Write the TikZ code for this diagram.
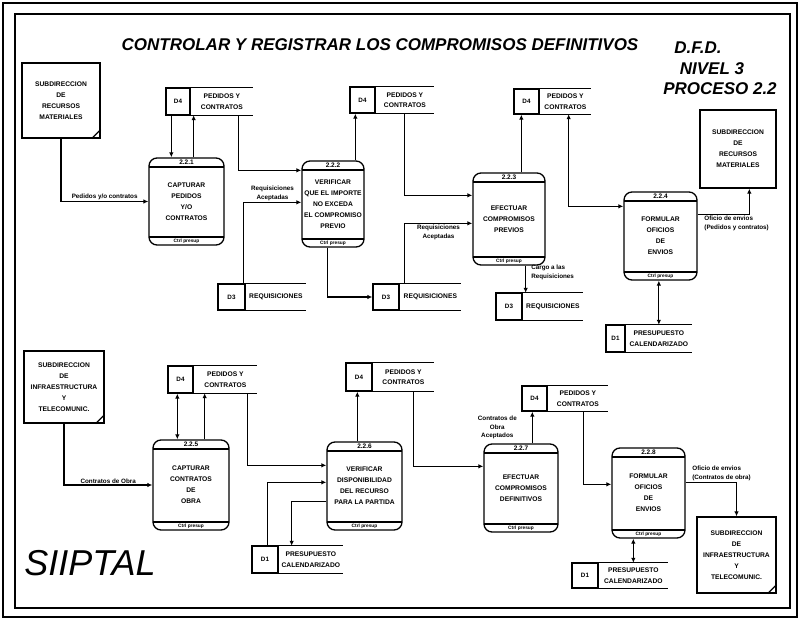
\documentclass[tikz,border=0pt]{standalone}
\usepackage{fontspec}
\setmainfont{Liberation Sans}
\usetikzlibrary{arrows.meta,positioning}

\tikzset{
  flow/.style={line width=1.2pt, -{Latex[length=5pt,width=4.5pt]}},
  both/.style={line width=1.2pt, {Latex[length=5pt,width=4.5pt]}-{Latex[length=5pt,width=4.5pt]}},
  proc/.style={draw, line width=1.3pt, rounded corners=8pt, inner sep=0pt, align=center,
    font=\fontsize{6.7}{11}\selectfont\bfseries,
    path picture={
      \draw[line width=1.3pt] ([yshift=-9pt]path picture bounding box.north west) -- ([yshift=-9pt]path picture bounding box.north east);
      \draw[line width=1.3pt] ([yshift=8pt]path picture bounding box.south west) -- ([yshift=8pt]path picture bounding box.south east);}},
  pnum/.style={inner sep=0pt, font=\fontsize{6.5}{6.5}\selectfont\bfseries},
  pfoot/.style={inner sep=0pt, font=\fontsize{4.8}{5}\selectfont\bfseries},
  ent/.style={draw, line width=1.3pt, inner sep=0pt, align=center, font=\fontsize{6.7}{11}\selectfont\bfseries},
  dcell/.style={draw, line width=1.3pt, inner sep=0pt, font=\fontsize{6.3}{7}\selectfont\bfseries},
  dname/.style={inner sep=0pt, anchor=west, align=center, font=\fontsize{6.7}{10.5}\selectfont\bfseries},
  lbl/.style={inner sep=1pt, align=center, font=\fontsize{6.3}{8.5}\selectfont\bfseries},
  head/.style={inner sep=0pt, font=\fontsize{17}{20}\selectfont\bfseries\itshape},
  frame/.style={line width=1.4pt}
}

\begin{document}
\begin{tikzpicture}[x=1pt,y=-1pt]
\useasboundingbox (0,0) rectangle (799,620);
% ========= marco doble =========
\draw[frame] (3,3) rectangle (797,617);
\draw[frame] (15,14) rectangle (790,608);

% ========= titulos =========
\node[head] (tit) at (380,45) {CONTROLAR Y REGISTRAR LOS COMPROMISOS DEFINITIVOS};
\node[head] (dfd) at (698,48) {D.F.D.};
\node[head] (niv) at (712,69) {NIVEL 3};
\node[head] (pro) at (720,89) {PROCESO 2.2};
\node[inner sep=0pt, font=\fontsize{36}{40}\selectfont\itshape] (sis) at (90,563) {SIIPTAL};

% ========= entidades externas =========
\node[ent, minimum width=78pt, minimum height=75pt] (srm1) at (61,100.5) {SUBDIRECCION\\DE\\RECURSOS\\MATERIALES};
\node[ent, minimum width=76pt, minimum height=78pt] (srm2) at (738,149) {SUBDIRECCION\\DE\\RECURSOS\\MATERIALES};
\node[ent, minimum width=80pt, minimum height=72pt] (sit1) at (64,387) {SUBDIRECCION\\DE\\INFRAESTRUCTURA\\Y\\TELECOMUNIC.};
\node[ent, minimum width=79pt, minimum height=76pt] (sit2) at (736.5,555) {SUBDIRECCION\\DE\\INFRAESTRUCTURA\\Y\\TELECOMUNIC.};
% esquina de entidad duplicada
\foreach \e in {srm1,sit1,sit2}
  \draw[line width=1.3pt] (\e.south east) ++(-9pt,0pt) -- ++(9pt,9pt);

% ========= procesos fila superior =========
\node[proc, minimum width=75pt, minimum height=87pt] (p221) at (186.5,201.5) {CAPTURAR\\PEDIDOS\\Y/O\\CONTRATOS};
\node[pnum] (p221n) at ([yshift=-4.5pt]p221.north) {2.2.1};
\node[pfoot] (p221f) at ([yshift=4pt]p221.south) {Ctrl presup};

\node[proc, minimum width=62pt, minimum height=86pt] (p222) at (333,204) {VERIFICAR\\QUE EL IMPORTE\\NO EXCEDA\\EL COMPROMISO\\PREVIO};
\node[pnum] (p222n) at ([yshift=-4.5pt]p222.north) {2.2.2};
\node[pfoot] (p222f) at ([yshift=4pt]p222.south) {Ctrl presup};

\node[proc, minimum width=72pt, minimum height=92pt] (p223) at (509,219) {EFECTUAR\\COMPROMISOS\\PREVIOS};
\node[pnum] (p223n) at ([yshift=-4.5pt]p223.north) {2.2.3};
\node[pfoot] (p223f) at ([yshift=4pt]p223.south) {Ctrl presup};

\node[proc, minimum width=73pt, minimum height=88pt] (p224) at (660.5,236) {FORMULAR\\OFICIOS\\DE\\ENVIOS};
\node[pnum] (p224n) at ([yshift=-4.5pt]p224.north) {2.2.4};
\node[pfoot] (p224f) at ([yshift=4pt]p224.south) {Ctrl presup};

% ========= procesos fila inferior =========
\node[proc, minimum width=76pt, minimum height=90pt] (p225) at (191,485) {CAPTURAR\\CONTRATOS\\DE\\OBRA};
\node[pnum] (p225n) at ([yshift=-4.5pt]p225.north) {2.2.5};
\node[pfoot] (p225f) at ([yshift=4pt]p225.south) {Ctrl presup};

\node[proc, minimum width=75pt, minimum height=88pt] (p226) at (364.5,486) {VERIFICAR\\DISPONIBILIDAD\\DEL RECURSO\\PARA LA PARTIDA};
\node[pnum] (p226n) at ([yshift=-4.5pt]p226.north) {2.2.6};
\node[pfoot] (p226f) at ([yshift=4pt]p226.south) {Ctrl presup};

\node[proc, minimum width=74pt, minimum height=88pt] (p227) at (521,488) {EFECTUAR\\COMPROMISOS\\DEFINITIVOS};
\node[pnum] (p227n) at ([yshift=-4.5pt]p227.north) {2.2.7};
\node[pfoot] (p227f) at ([yshift=4pt]p227.south) {Ctrl presup};

\node[proc, minimum width=73pt, minimum height=90pt] (p228) at (648.5,493) {FORMULAR\\OFICIOS\\DE\\ENVIOS};
\node[pnum] (p228n) at ([yshift=-4.5pt]p228.north) {2.2.8};
\node[pfoot] (p228f) at ([yshift=4pt]p228.south) {Ctrl presup};

% ========= almacenes =========
\node[dcell, minimum width=24pt, minimum height=27pt] (d4a) at (178,101.5) {D4};
\node[dname, minimum width=62pt, minimum height=27pt] (d4a-txt) at (d4a.east) {PEDIDOS Y\\CONTRATOS};
\node[dcell, minimum width=25pt, minimum height=26pt] (d4b) at (362.5,100) {D4};
\node[dname, minimum width=58pt, minimum height=26pt] (d4b-txt) at (d4b.east) {PEDIDOS Y\\CONTRATOS};
\node[dcell, minimum width=25pt, minimum height=25pt] (d4c) at (526.5,101.5) {D4};
\node[dname, minimum width=51pt, minimum height=25pt] (d4c-txt) at (d4c.east) {PEDIDOS Y\\CONTRATOS};
\node[dcell, minimum width=27pt, minimum height=26pt] (d3a) at (231.5,297) {D3};
\node[dname, minimum width=60pt, minimum height=26pt] (d3a-txt) at (d3a.east) {REQUISICIONES};
\node[dcell, minimum width=26pt, minimum height=26pt] (d3b) at (386,297) {D3};
\node[dname, minimum width=61pt, minimum height=26pt] (d3b-txt) at (d3b.east) {REQUISICIONES};
\node[dcell, minimum width=26pt, minimum height=27pt] (d3c) at (509,306.5) {D3};
\node[dname, minimum width=60pt, minimum height=27pt] (d3c-txt) at (d3c.east) {REQUISICIONES};
\node[dcell, minimum width=19pt, minimum height=27pt] (d1a) at (615.5,338.5) {D1};
\node[dname, minimum width=66pt, minimum height=27pt] (d1a-txt) at (d1a.east) {PRESUPUESTO\\CALENDARIZADO};
\node[dcell, minimum width=25pt, minimum height=27pt] (d4d) at (180.5,379.5) {D4};
\node[dname, minimum width=63pt, minimum height=27pt] (d4d-txt) at (d4d.east) {PEDIDOS Y\\CONTRATOS};
\node[dcell, minimum width=26pt, minimum height=28pt] (d4e) at (359,377) {D4};
\node[dname, minimum width=61pt, minimum height=28pt] (d4e-txt) at (d4e.east) {PEDIDOS Y\\CONTRATOS};
\node[dcell, minimum width=25pt, minimum height=25pt] (d4f) at (534.5,398.5) {D4};
\node[dname, minimum width=60pt, minimum height=25pt] (d4f-txt) at (d4f.east) {PEDIDOS Y\\CONTRATOS};
\node[dcell, minimum width=26pt, minimum height=27pt] (d1b) at (265,559.5) {D1};
\node[dname, minimum width=64pt, minimum height=27pt] (d1b-txt) at (d1b.east) {PRESUPUESTO\\CALENDARIZADO};
\node[dcell, minimum width=26pt, minimum height=25pt] (d1c) at (585,575.5) {D1};
\node[dname, minimum width=69pt, minimum height=25pt] (d1c-txt) at (d1c.east) {PRESUPUESTO\\CALENDARIZADO};
% lados abiertos de los almacenes
\foreach \s in {d4a,d4b,d4c,d3a,d3b,d3c,d1a,d4d,d4e,d4f,d1b,d1c}
  \draw[line width=1.3pt] (\s-txt.north west) -- (\s-txt.north east) (\s-txt.south west) -- (\s-txt.south east);

% ========= flujos fila superior =========
\draw[flow] (srm1.south) |- node[lbl, above, pos=0.75] {Pedidos y/o contratos} (p221.west);
\draw[flow] ([xshift=6pt]d4a.south west) -- ([xshift=6pt]d4a.south west |- p221.north);
\draw[flow] ([xshift=3pt]d4a-txt.south west |- p221.north) -- ([xshift=3pt]d4a-txt.south west);
\draw[flow] ([xshift=48pt]d4a-txt.south west) |- ([yshift=-10pt]p222.north west);
\draw[flow] ([xshift=-2pt]d3a.north east) |- node[lbl, above, pos=0.75] {Requisiciones\\Aceptadas} ([yshift=-42pt]p222.north west);
\draw[flow] ([xshift=6pt]d4b.south west |- p222.north) -- ([xshift=6pt]d4b.south west);
\draw[flow] ([xshift=26pt]p222.south west) |- (d3b.west);
\draw[flow] (d4b-txt.south) |- ([yshift=-23pt]p223.north west);
\draw[flow] ([xshift=5pt]d3b-txt.north west) |- node[lbl, below, pos=0.75] {Requisiciones\\Aceptadas} ([yshift=-51pt]p223.north west);
\draw[flow] ([xshift=8pt]d4c.south west |- p223.north) -- ([xshift=8pt]d4c.south west);
\draw[flow] ([xshift=3pt]d3c-txt.north west |- p223.south) -- node[lbl, right=4pt, align=left, pos=0.25] {Cargo a las\\Requisiciones} ([xshift=3pt]d3c-txt.north west);
\draw[both] ([xshift=29pt]d4c-txt.south west) |- ([yshift=-15pt]p224.north west);
\draw[flow] ([yshift=-23pt]p224.north east) -| node[lbl, below right, align=left, pos=0.05] {Oficio de envios\\(Pedidos y contratos)} ([xshift=50pt]srm2.south west);
\draw[both] (d1a-txt.north |- p224.south) -- (d1a-txt.north);

% ========= flujos fila inferior =========
\draw[flow] (sit1.south) |- node[lbl, above, pos=0.75] {Contratos de Obra} (p225.west);
\draw[both] ([xshift=10pt]d4d.south west) -- ([xshift=10pt]d4d.south west |- p225.north);
\draw[flow] ([xshift=11pt]d4d-txt.south west |- p225.north) -- ([xshift=11pt]d4d-txt.south west);
\draw[flow] ([xshift=54pt]d4d-txt.south west) |- ([yshift=-24pt]p226.north west);
\draw[flow] ([xshift=12pt]d4e.south west |- p226.north) -- ([xshift=12pt]d4e.south west);
\draw[flow] ([xshift=16pt]d1b.north west) |- ([yshift=-41pt]p226.north west);
\draw[flow] ([yshift=-60pt]p226.north west) -| ([xshift=13pt]d1b-txt.north west);
\draw[flow] ([xshift=41pt]d4e-txt.south west) |- ([yshift=-23pt]p227.north west);
\draw[flow] ([xshift=11pt]d4f.south west |- p227.north) -- node[lbl, left=14pt, midway] {Contratos de\\Obra\\Aceptados} ([xshift=11pt]d4f.south west);
\draw[flow] ([xshift=36pt]d4f-txt.south west) |- ([yshift=-37pt]p228.north west);
\draw[both] (d1c-txt.north |- p228.south) -- (d1c-txt.north);
\draw[flow] ([yshift=-35pt]p228.north east) -| node[lbl, above right, align=left, pos=0.05] {Oficio de envios\\(Contratos de obra)} (sit2.north);
\end{tikzpicture}
\end{document}
